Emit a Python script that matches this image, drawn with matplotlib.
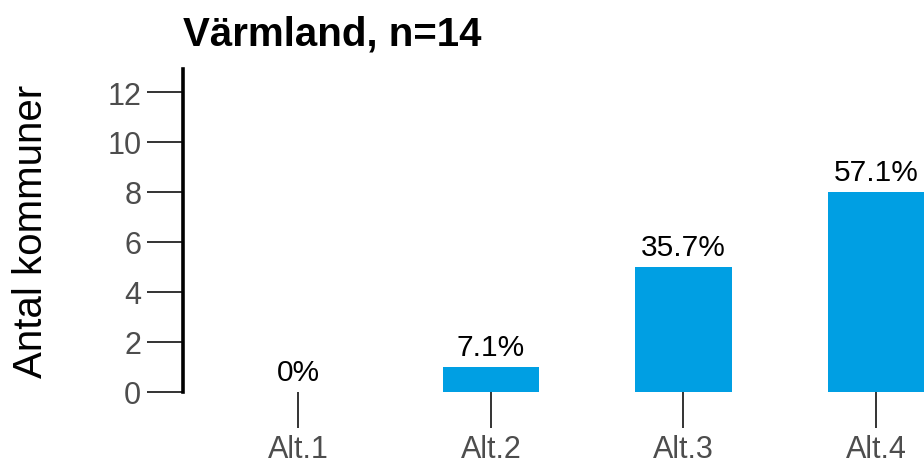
import matplotlib
matplotlib.use("Agg")
import matplotlib.pyplot as plt

categories = ["Alt.1", "Alt.2", "Alt.3", "Alt.4"]
counts = [0, 1, 5, 8]
labels = ["0%", "7.1%", "35.7%", "57.1%"]
title = "Värmland, n=14"
ylabel = "Antal kommuner"
yticks = [0, 2, 4, 6, 8, 10, 12]

plt.rcParams['font.family'] = ['Liberation Sans', 'DejaVu Sans']

fig = plt.figure(figsize=(9.24, 4.64), dpi=100)
W, H = 924, 464
ax = fig.add_axes([183 / W, 71 / H, (924 - 183) / W, (393 - 70) / H])

x = list(range(1, len(categories) + 1))
bars = ax.bar(x, counts, width=0.5, color="#009FE3")
ax.bar_label(bars, labels=labels, padding=4, fontsize=21.5, color="black")

ax.set_xlim(0.4, 4.25)
ax.set_ylim(0, 12.92)
ax.set_xticks(x)
ax.set_xticklabels(categories)
ax.set_yticks(yticks)

for s in ["top", "right", "bottom"]:
    ax.spines[s].set_visible(False)
ax.spines["left"].set_linewidth(2.6)
ax.spines["left"].set_color("black")

ax.tick_params(axis="y", length=26, width=1.4, color="#333333", labelsize=22,
               labelcolor="#4d4d4d", pad=4)
ax.tick_params(axis="x", length=26, width=1.4, color="#333333", labelsize=22,
               labelcolor="#4d4d4d", pad=4)

ax.set_ylabel(ylabel, fontsize=29, color="black")
ax.yaxis.set_label_coords(-0.180, 0.5)
ax.set_title(title, loc="left", fontsize=29, fontweight="bold", pad=18)

fig.savefig("out.png", dpi=100)
